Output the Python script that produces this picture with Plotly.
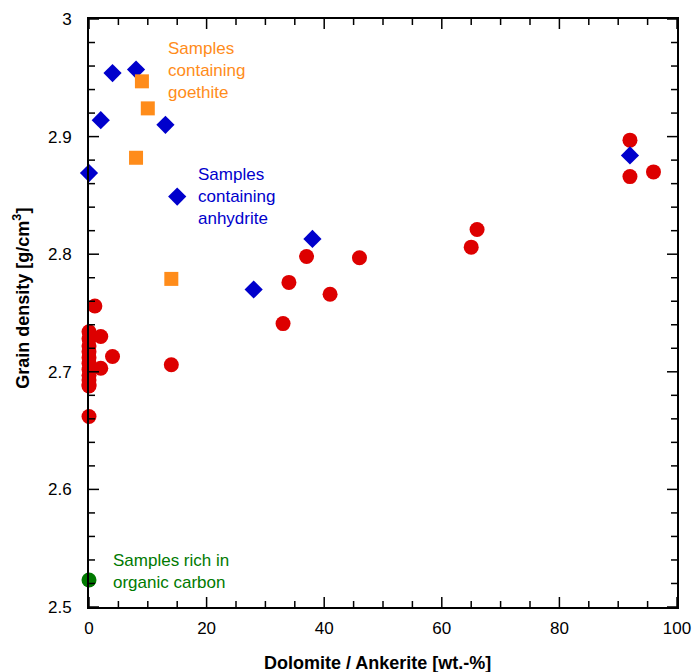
import plotly.graph_objects as go

# ---- data ----
red_x = [92, 92, 96, 66, 65, 46, 37, 34, 41, 33, 14, 1, 0, 2, 4, 2, 0,
         0, 0, 0, 0, 0, 0, 0, 0, 0, 0]
red_y = [2.897, 2.866, 2.870, 2.821, 2.806, 2.797, 2.798, 2.776, 2.766, 2.741, 2.706,
         2.756, 2.734, 2.730, 2.713, 2.703, 2.662,
         2.728, 2.722, 2.717, 2.712, 2.707, 2.702, 2.697, 2.693, 2.689, 2.688]

blue_x = [4, 8, 2, 13, 0, 15, 38, 28, 92]
blue_y = [2.954, 2.957, 2.914, 2.910, 2.869, 2.849, 2.813, 2.770, 2.884]

orange_x = [9, 10, 8, 14]
orange_y = [2.947, 2.924, 2.882, 2.779]

green_x = [0]
green_y = [2.523]

x_range = [0, 100]
y_range = [2.5, 3.0]
x_major = [0, 20, 40, 60, 80, 100]
x_minor = [5, 10, 15, 25, 30, 35, 45, 50, 55, 65, 70, 75, 85, 90, 95]
y_major = [2.5, 2.6, 2.7, 2.8, 2.9, 3.0]
y_minor = [2.52, 2.54, 2.56, 2.58, 2.62, 2.64, 2.66, 2.68, 2.72, 2.74, 2.76, 2.78,
           2.82, 2.84, 2.86, 2.88, 2.92, 2.94, 2.96, 2.98]

x_title = "Dolomite / Ankerite [wt.-%]"
y_title = "Grain density [g/cm<sup>3</sup>]"
lbl_goethite = "Samples<br>containing<br>goethite"
lbl_anhydrite = "Samples<br>containing<br>anhydrite"
lbl_organic = "Samples rich in<br>organic carbon"

RED = "#DD0000"
BLUE = "#0000CC"
ORANGE = "#FF8C1A"
GREEN = "#007A00"
FONT = "Arial, Liberation Sans, Helvetica, sans-serif"

fig = go.Figure()
for xs, ys, sym, sz, col in [(red_x, red_y, "circle", 15, RED),
                             (blue_x, blue_y, "diamond", 14, BLUE),
                             (orange_x, orange_y, "square", 14, ORANGE),
                             (green_x, green_y, "circle", 15, GREEN)]:
    fig.add_trace(go.Scatter(x=xs, y=ys, mode="markers", cliponaxis=False,
                             marker=dict(symbol=sym, size=sz, color=col, line=dict(width=0))))

fig.update_xaxes(range=x_range, tickvals=x_major, showline=True, linecolor="black", linewidth=2,
                 mirror=True, ticks="", ticklabelstandoff=5, automargin=False,
                 showgrid=False, zeroline=False)
fig.update_yaxes(range=y_range, tickvals=y_major, ticktext=["2.5", "2.6", "2.7", "2.8", "2.9", "3"],
                 showline=True, linecolor="black", linewidth=2,
                 mirror=True, ticks="", ticklabelstandoff=12, automargin=False,
                 showgrid=False, zeroline=False)

# tick marks on all four sides (inside), placed through the axis scales
MAJ_X, MIN_X = 10 / 588, 6 / 588
MAJ_Y, MIN_Y = 10 / 588, 6 / 588
tick_line = dict(color="black", width=1.5)
for vals, ln in [(x_major, MAJ_Y), (x_minor, MIN_Y)]:
    for v in vals:
        fig.add_shape(type="line", xref="x", yref="y domain", x0=v, x1=v, y0=0, y1=ln,
                      line=tick_line)
        fig.add_shape(type="line", xref="x", yref="y domain", x0=v, x1=v, y0=1, y1=1 - ln,
                      line=tick_line)
for vals, ln in [(y_major, MAJ_X), (y_minor, MIN_X)]:
    for v in vals:
        fig.add_shape(type="line", xref="x domain", yref="y", y0=v, y1=v, x0=0, x1=ln,
                      line=tick_line)
        fig.add_shape(type="line", xref="x domain", yref="y", y0=v, y1=v, x0=1, x1=1 - ln,
                      line=tick_line)

annos = [
    dict(text=lbl_goethite, x=13.07, y=2.956, font_color=ORANGE),
    dict(text=lbl_anhydrite, x=18.2, y=2.849, font_color=BLUE),
    dict(text=lbl_organic, x=3.8, y=2.530, font_color=GREEN),
]
for a in annos:
    fig.add_annotation(text=a["text"], x=a["x"], y=a["y"], xref="x", yref="y",
                       xanchor="left", yanchor="middle", align="left",
                       showarrow=False,
                       font=dict(family=FONT, size=17, color=a["font_color"]))

# axis titles
fig.add_annotation(text="<b>" + x_title + "</b>", xref="paper", yref="paper",
                   x=0.49, y=-0.075, xanchor="center", yanchor="top", showarrow=False,
                   font=dict(family=FONT, size=18, color="black"))
fig.add_annotation(text="<b>" + y_title + "</b>", xref="paper", yref="paper",
                   x=-0.115, y=0.525, xanchor="center", yanchor="middle", showarrow=False,
                   textangle=-90, font=dict(family=FONT, size=18, color="black"))

fig.update_layout(
    width=693, height=672,
    margin=dict(l=89, r=16, t=19, b=65),
    plot_bgcolor="white", paper_bgcolor="white",
    showlegend=False,
    font=dict(family=FONT, size=17, color="black"),
)

fig.write_html("out.html")
